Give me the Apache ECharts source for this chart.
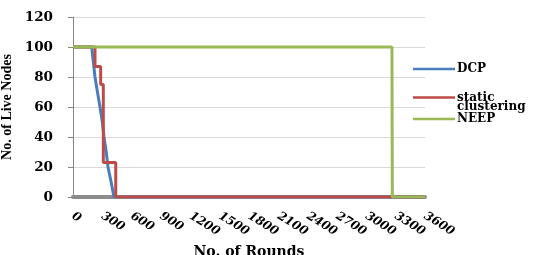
<!DOCTYPE html>
<html><head><meta charset="utf-8">
<script src="https://cdn.jsdelivr.net/npm/echarts@6/dist/echarts.min.js"></script>
<style>html,body{margin:0;padding:0;background:#fff}#c{width:542px;height:255px}</style>
</head><body><div id="c"></div>
<script>
var seriesNames = ['DCP', 'static clustering', 'NEEP'];
var xTicks = [0,300,600,900,1200,1500,1800,2100,2400,2700,3000,3300,3600];
var yTicks = [0,20,40,60,80,100,120];
var dcpX = [0, 191, 225, 250, 276, 300, 317, 340, 358, 390, 419, 3600];
var dcpY = [100, 100, 80, 70, 60, 50, 40, 30, 20, 10, 0, 0];
var staticX = [0, 225, 225, 283, 283, 310, 310, 437, 437, 3600];
var staticY = [100, 100, 87, 87, 75, 75, 23, 23, 0, 0];
var neepX = [0, 3262, 3264, 3266, 3600];
var neepY = [100, 100, 45, 0, 0];
var colors = ['#4a7ebb', '#be4b48', '#98b954'];

function pairs(xs, ys){ return xs.map(function(x,i){ return [x, ys[i]]; }); }
var serif = 'DejaVu Serif';
function legend(name, top, fmt, lh){
  return {
    data: [name], left: 408, top: top, orient: 'vertical',
    icon: 'rect', itemWidth: 42, itemHeight: 2.5, itemGap: 0,
    formatter: fmt,
    textStyle: {fontFamily: serif, fontWeight: 'bold', fontSize: 12, color: '#000', lineHeight: lh, padding: [0,0,0,-3]}
  };
}
var chart = echarts.init(document.getElementById('c'));
chart.setOption({
  animation: false,
  grid: {left: 73, right: 117, top: 17, bottom: 58, containLabel: false, outerBoundsMode: 'none'},
  legend: [
    legend(seriesNames[0], 57, function(n){return n;}, 14),
    legend(seriesNames[1], 77, function(n){return '\nstatic\nclustering';}, 9.5),
    legend(seriesNames[2], 107, function(n){return n;}, 14)
  ],
  xAxis: {
    type: 'value', min: xTicks[0], max: xTicks[xTicks.length-1], interval: 300,
    offset: 2,
    axisLine: {show: true, lineStyle: {color: '#8c8c8c', width: 4}},
    axisTick: {show: false},
    splitLine: {show: false},
    axisLabel: {rotate: -32, margin: 16, fontFamily: serif, fontWeight: 'bold', fontStyle: 'italic', fontSize: 12, color: '#000',
      formatter: function(v){ return String(v); }},
    name: 'No. of Rounds', nameLocation: 'middle', nameGap: 46,
    nameTextStyle: {fontFamily: serif, fontWeight: 'bold', fontSize: 14, color: '#000'}
  },
  yAxis: {
    type: 'value', min: yTicks[0], max: yTicks[yTicks.length-1], interval: 20,
    axisLine: {show: true, lineStyle: {color: '#868686', width: 1}},
    axisTick: {show: true, length: 5, lineStyle: {color: '#868686'}},
    splitLine: {show: true, lineStyle: {color: '#d9d9d9', width: 1}},
    axisLabel: {margin: 20, fontFamily: serif, fontWeight: 'bold', fontSize: 13.5, color: '#000',
      formatter: function(v){ return String(v); }},
    name: 'No. of Live Nodes', nameLocation: 'middle', nameGap: 51,
    nameTextStyle: {fontFamily: 'Liberation Serif', fontWeight: 'bold', fontSize: 14, color: '#000'}
  },
  series: [
    {name: seriesNames[0], type: 'line', data: pairs(dcpX, dcpY), showSymbol: false, lineStyle: {color: colors[0], width: 3}, itemStyle: {color: colors[0]}},
    {name: seriesNames[1], type: 'line', data: pairs(staticX, staticY), showSymbol: false, lineStyle: {color: colors[1], width: 3}, itemStyle: {color: colors[1]}},
    {name: seriesNames[2], type: 'line', data: pairs(neepX, neepY), showSymbol: false, lineStyle: {color: colors[2], width: 3}, itemStyle: {color: colors[2]}}
  ]
});
</script></body></html>
